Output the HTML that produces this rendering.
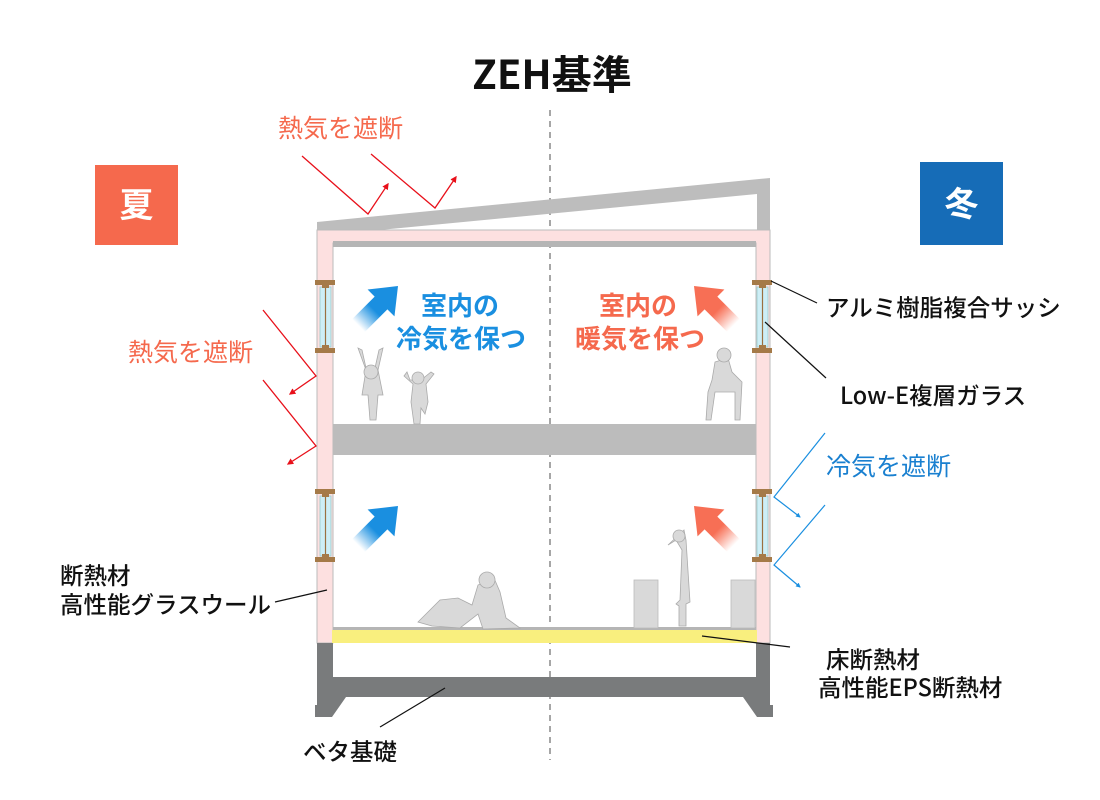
<!DOCTYPE html>
<html><head><meta charset="utf-8"><style>
html,body{margin:0;padding:0;background:#fff}
svg{display:block}
text{font-family:"Noto Sans CJK JP","Liberation Sans",sans-serif}
</style></head><body>
<svg width="1100" height="800" viewBox="0 0 1100 800" xmlns="http://www.w3.org/2000/svg">
<defs>
<linearGradient id="gb" x1="0" y1="0" x2="1" y2="0"><stop offset="0" stop-color="#1a8fe0" stop-opacity="0"/><stop offset="0.4" stop-color="#1a8fe0"/><stop offset="1" stop-color="#1a8fe0"/></linearGradient>
<linearGradient id="gr" x1="0" y1="0" x2="1" y2="0"><stop offset="0" stop-color="#f76f55" stop-opacity="0"/><stop offset="0.4" stop-color="#f76f55"/><stop offset="1" stop-color="#f76f55"/></linearGradient>
<marker id="mr" viewBox="0 0 10 10" refX="8" refY="5" markerWidth="5" markerHeight="5" orient="auto"><path d="M0,0 L10,5 L0,10z" fill="#e8101a"/></marker>
<marker id="mb" viewBox="0 0 10 10" refX="8" refY="5" markerWidth="4" markerHeight="4" orient="auto"><path d="M0,0 L10,5 L0,10z" fill="#1a8fe0"/></marker>
</defs>

<text x="552" y="89" text-anchor="middle" font-size="40" font-weight="bold" fill="#111">ZEH基準</text>
<rect x="95" y="165" width="83" height="80" fill="#f5694d"/>
<text x="136.5" y="217" text-anchor="middle" font-size="34" font-weight="bold" fill="#fff">夏</text>
<rect x="920" y="162" width="83" height="83" fill="#166cb7"/>
<text x="961.5" y="216" text-anchor="middle" font-size="34" font-weight="bold" fill="#fff">冬</text>

<line x1="550" y1="110" x2="550" y2="760" stroke="#777" stroke-width="1.3" stroke-dasharray="6,5"/>

<polygon points="317,222 770,178 770,236 757,236 757,194 317,236" fill="#bdbdbd"/>
<path d="M317,230 H770 V643 H756 V243 H333 V643 H317 Z" fill="#fde0e0" stroke="#bbb" stroke-width="1"/>
<rect x="333" y="241" width="423" height="6" fill="#b5b5b5"/>
<rect x="333" y="424" width="423" height="31" fill="#bcbcbc"/>
<rect x="333" y="627" width="423" height="3" fill="#b5b5b5"/>
<rect x="332" y="630" width="425" height="13" fill="#f9ef7e"/>
<path d="M317,643 H333 V677 H756 V643 H770 V705 H773 V717 H757 L743,697 H346 L332,717 H315 V705 H317 Z" fill="#797b7c"/>

<g id="win">
<rect x="320" y="287" width="11" height="60" fill="#cdeef6" stroke="#9cc" stroke-width="0.8"/>
<line x1="325.5" y1="287" x2="325.5" y2="347" stroke="#9a7040" stroke-width="1.2"/>
<rect x="315" y="280" width="20" height="5" fill="#a57a48"/><rect x="322" y="285" width="7" height="3" fill="#a57a48"/>
<rect x="315" y="348" width="20" height="5" fill="#a57a48"/><rect x="322" y="345" width="7" height="3" fill="#a57a48"/>
</g>
<use href="#win" transform="translate(0,209)"/>
<use href="#win" transform="translate(437,0)"/>
<use href="#win" transform="translate(437,209)"/>

<g fill="#d9d9d9" stroke="#aaa" stroke-width="0.8">
<path d="M358,348 L366,370 L362,395 L368,395 L370,420 L376,420 L378,395 L383,395 L378,370 L383,348 L379,350 L375,368 L366,368 L362,350 Z"/>
<circle cx="371" cy="372" r="7"/>
<path d="M404,376 L413,384 L411,402 L414,424 L420,424 L421,408 L425,414 L428,402 L426,384 L434,374 L431,372 L421,380 L410,380 L407,372 Z"/>
<circle cx="418" cy="378" r="6"/>
<path d="M418,622 L440,600 L458,598 L472,605 L478,585 L494,578 L500,592 L506,618 L520,628 L483,629 L478,614 L460,628 L432,626 Z"/>
<circle cx="487" cy="580" r="8"/>
<path d="M668,545 L676,540 L682,550 L680,600 L676,604 L679,606 L679,626 L686,626 L686,604 L690,602 L686,540 L684,530 Z"/>
<circle cx="679" cy="536" r="6"/>
<path d="M715,362 L728,358 L732,372 L742,382 L740,420 L735,420 L735,392 L715,392 L711,420 L706,420 L708,392 L712,380 Z"/>
<circle cx="724" cy="355" r="7"/>
<rect x="634" y="580" width="24" height="48" stroke="#bbb"/>
<rect x="731" y="580" width="24" height="48" stroke="#bbb"/>
</g>

<g transform="translate(398,286) rotate(135)">
<polygon points="0,0 -24,-19 -24,-9 -56,-9 -56,9 -24,9 -24,19" fill="url(#gb)" transform="rotate(180) scale(-1,1) rotate(180)"/>
</g>
<g transform="translate(398,506) rotate(135)">
<polygon points="0,0 -24,-19 -24,-9 -56,-9 -56,9 -24,9 -24,19" fill="url(#gb)" transform="rotate(180) scale(-1,1) rotate(180)"/>
</g>
<g transform="translate(694,286) rotate(45)">
<polygon points="0,0 -24,-19 -24,-9 -56,-9 -56,9 -24,9 -24,19" fill="url(#gr)" transform="rotate(180) scale(-1,1) rotate(180)"/>
</g>
<g transform="translate(694,506) rotate(45)">
<polygon points="0,0 -24,-19 -24,-9 -56,-9 -56,9 -24,9 -24,19" fill="url(#gr)" transform="rotate(180) scale(-1,1) rotate(180)"/>
</g>

<text x="460" y="315" text-anchor="middle" font-size="26" font-weight="bold" fill="#1a8fe0">室内の</text>
<text x="461" y="348" text-anchor="middle" font-size="26" font-weight="bold" fill="#1a8fe0">冷気を保つ</text>
<text x="638" y="315" text-anchor="middle" font-size="26" font-weight="bold" fill="#f5694d">室内の</text>
<text x="640" y="348" text-anchor="middle" font-size="26" font-weight="bold" fill="#f5694d">暖気を保つ</text>

<text x="278" y="137" font-size="25" fill="#f5694d">熱気を遮断</text>
<text x="128" y="361" font-size="25" fill="#f5694d">熱気を遮断</text>
<g stroke="#e8101a" stroke-width="1.3" fill="none">
<polyline points="302,156 368,214 388,184" marker-end="url(#mr)"/>
<polyline points="371,154 435,208 456,177" marker-end="url(#mr)"/>
<polyline points="263,310 316,376 290,394" marker-end="url(#mr)"/>
<polyline points="263,380 316,446 288,464" marker-end="url(#mr)"/>
</g>
<text x="826" y="475" font-size="25" fill="#1a80d0">冷気を遮断</text>
<g stroke="#1a8fe0" stroke-width="1.2" fill="none">
<polyline points="825,433 774,497 800,517" marker-end="url(#mb)"/>
<polyline points="825,505 774,565 800,587" marker-end="url(#mb)"/>
</g>

<g font-size="23.5" font-weight="500" fill="#111">
<text x="826" y="316">アルミ樹脂複合サッシ</text>
<text x="840" y="404">Low-E複層ガラス</text>
<text x="60" y="584">断熱材</text>
<text x="60" y="613">高性能グラスウール</text>
<text x="826" y="668">床断熱材</text>
<text x="818" y="696">高性能EPS断熱材</text>
<text x="303" y="760">ベタ基礎</text>
</g>
<g stroke="#111" stroke-width="1.2">
<line x1="771" y1="281" x2="817" y2="303"/>
<line x1="765" y1="322" x2="826" y2="378"/>
<line x1="275" y1="602" x2="327" y2="590"/>
<line x1="702" y1="636" x2="790" y2="647"/>
<line x1="445" y1="688" x2="380" y2="727"/>
</g>
</svg>
</body></html>
